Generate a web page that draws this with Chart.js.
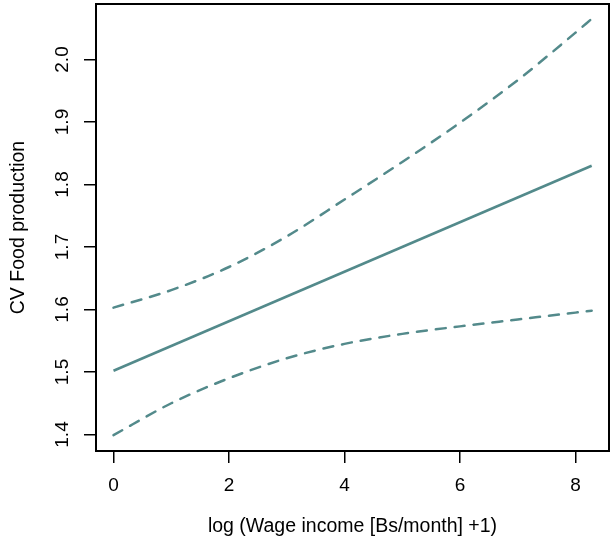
<!DOCTYPE html>
<html>
<head>
<meta charset="utf-8">
<script src="https://cdn.jsdelivr.net/npm/chart.js@4/dist/chart.umd.min.js"></script>
<style>
  body { margin: 0; background: #fff; }
  canvas { display: block; }
</style>
</head>
<body>
<canvas id="myChart" width="611" height="544"></canvas>
<script>
// fitted line and confidence band
const fitX = [0, 8.28];
const fitY = [1.502, 1.830];
const bandX = [0, 1, 2, 3, 4, 5, 6, 7, 8, 8.28];
const upperCI = [1.603, 1.631, 1.668, 1.717, 1.776, 1.836, 1.899, 1.967, 2.043, 2.065];
const lowerCI = [1.399, 1.450, 1.490, 1.522, 1.545, 1.561, 1.573, 1.584, 1.595, 1.598];
const xTicks = [0, 2, 4, 6, 8];
const yTicks = [1.4, 1.5, 1.6, 1.7, 1.8, 1.9, 2.0];

const lineColor = "#538a8b";

function pts(xs, ys) {
    let out = [];
    for (let i = 0; i < xs.length; i++) {
        out.push({ x: xs[i], y: ys[i] });
    }
    return out;
}

Chart.defaults.font.family = "'Liberation Sans', Arial, sans-serif";
Chart.defaults.color = "#000";

const boxPlugin = {
    id: "box",
    afterDraw(chart) {
        const a = chart.chartArea;
        const ctx = chart.ctx;
        ctx.save();
        ctx.strokeStyle = "#000";
        ctx.lineWidth = 2;
        ctx.strokeRect(a.left, a.top, a.right - a.left, a.bottom - a.top);
        ctx.restore();
    }
};

function dashed(ys) {
    return {
        data: pts(bandX, ys),
        showLine: true,
        borderColor: lineColor,
        borderWidth: 2.5,
        borderDash: [10, 9],
        borderCapStyle: "round",
        pointRadius: 0,
        cubicInterpolationMode: "monotone"
    };
}

let myChart = new Chart("myChart", {
    type: "scatter",
    data: {
        datasets: [dashed(upperCI), {
            data: pts(fitX, fitY),
            showLine: true,
            borderColor: lineColor,
            borderWidth: 2.5,
            pointRadius: 0
        }, dashed(lowerCI)]
    },
    options: {
        responsive: false,
        animation: false,
        layout: { padding: { top: 4, right: 2, left: 0, bottom: 0 } },
        plugins: { legend: { display: false }, tooltip: { enabled: false } },
        scales: {
            x: {
                type: "linear",
                min: -0.303,
                max: 8.58,
                afterFit: s => { s.height = 93; s.paddingLeft = 0; s.paddingRight = 0; },
                afterBuildTicks: s => { s.ticks = xTicks.map(v => ({ value: v })); },
                grid: { drawOnChartArea: false, drawTicks: true, tickLength: 12, color: "#000", lineWidth: 1.5 },
                border: { display: false },
                ticks: { font: { size: 19 }, padding: 11, maxRotation: 0, callback: v => String(v) },
                title: {
                    display: true,
                    text: "log (Wage income [Bs/month] +1)",
                    font: { size: 19.5 },
                    padding: { top: 0, bottom: 6 }
                }
            },
            y: {
                type: "linear",
                min: 1.3736,
                max: 2.0888,
                afterFit: s => { s.width = 96; s.paddingTop = 0; s.paddingBottom = 0; },
                afterBuildTicks: s => { s.ticks = yTicks.map(v => ({ value: v })); },
                grid: { drawOnChartArea: false, drawTicks: true, tickLength: 12, color: "#000", lineWidth: 1.5 },
                border: { display: false },
                ticks: { font: { size: 19 }, padding: 8, minRotation: 90, maxRotation: 90, crossAlign: "center", callback: v => v.toFixed(1) },
                title: {
                    display: true,
                    text: "CV Food production",
                    font: { size: 19.5 },
                    padding: { top: 7, bottom: 0 }
                }
            }
        }
    },
    plugins: [boxPlugin]
});
</script>
</body>
</html>
